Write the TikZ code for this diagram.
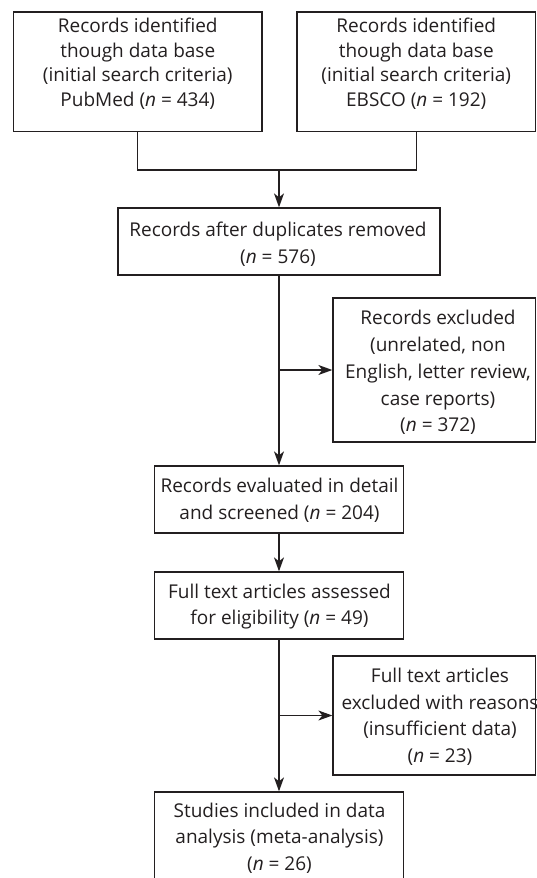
\documentclass[tikz,border=0pt]{standalone}
\usepackage{fontspec}
\setmainfont{Open Sans}
\usetikzlibrary{arrows.meta}
\definecolor{ink}{HTML}{231F20}
\begin{document}
\begin{tikzpicture}[x=1pt,y=-1pt,
  box/.style={draw=ink, line width=1.3pt, rectangle, inner sep=0pt},
  txt/.style={text=ink, align=center, font=\fontsize{19}{26.7}\selectfont, inner sep=0pt},
  txtt/.style={txt, font=\fontsize{19}{24.5}\selectfont},
  flow/.style={draw=ink, line width=1.3pt},
  arr/.style={flow, -{Stealth[length=14pt,width=10pt,inset=4pt]}}]
\useasboundingbox (0,0) rectangle (537,878);
% boxes
\node[box, minimum width=248.5pt, minimum height=119.5pt] (b1) at (137.75,71.75) {};
\node[box, minimum width=238.5pt, minimum height=119.5pt] (b2) at (416.25,71.75) {};
\node[box, minimum width=322pt, minimum height=67pt] (b3) at (279,241.5) {};
\node[box, minimum width=202.5pt, minimum height=144pt] (b4) at (434.25,370) {};
\node[box, minimum width=249pt, minimum height=67pt] (b5) at (279,499.5) {};
\node[box, minimum width=249pt, minimum height=67pt] (b6) at (279,605.5) {};
\node[box, minimum width=202.5pt, minimum height=119pt] (b7) at (434.25,715.5) {};
\node[box, minimum width=249pt, minimum height=92pt] (b8) at (279,838) {};
% texts
\node[txtt] (t1) at (137.75,63.5) {Records identified\\though data base\\(initial search criteria)\\PubMed (\textit{n} = 434)};
\node[txtt] (t2) at (416.25,63.5) {Records identified\\though data base\\(initial search criteria)\\EBSCO (\textit{n} = 192)};
\node[txt] (t3) at (278,244) {Records after duplicates removed\\(\textit{n} = 576)};
\node[txt] (t4) at (438,372.6) {Records excluded\\(unrelated, non\\English, letter review,\\case reports)\\(\textit{n} = 372)};
\node[txt] (t5) at (279.5,500) {Records evaluated in detail\\and screened (\textit{n} = 204)};
\node[txt] (t6) at (279.5,606.7) {Full text articles assessed\\for eligibility (\textit{n} = 49)};
\node[txt] (t7) at (440,716.7) {Full text articles\\excluded with reasons\\(insufficient data)\\(\textit{n} = 23)};
\node[txt] (t8) at (279.5,838) {Studies included in data\\analysis (meta-analysis)\\(\textit{n} = 26)};
% connectors
\coordinate (jl) at (137.75,170);
\coordinate (jr) at (416.25,170);
\draw[flow] (b1.south) -- (jl) -- (jr) -- (b2.south);
\coordinate (jc) at (279,170);
\draw[arr] (jc) -- (b3.north);
\draw[arr] (b3.south) -- (b5.north);
\draw[arr] (b3.south |- b4.west) -- (b4.west);
\draw[arr] (b5.south) -- (b6.north);
\draw[arr] (b6.south) -- (b8.north);
\draw[arr] (b6.south |- b7.west) -- (b7.west);
\end{tikzpicture}
\end{document}
